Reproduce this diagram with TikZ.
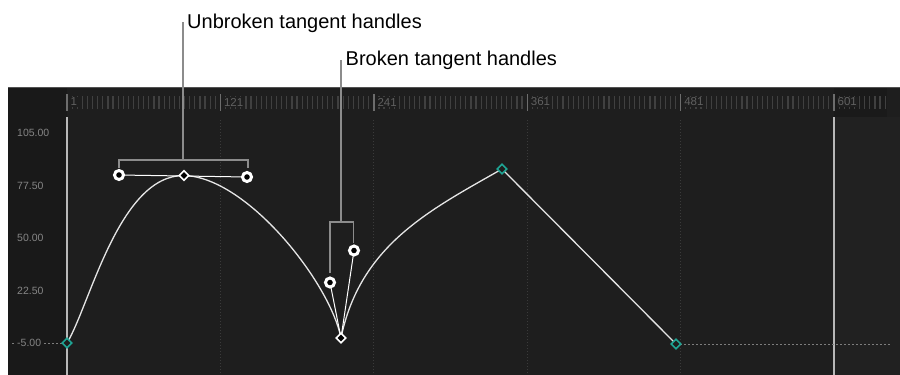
\documentclass[tikz,border=0pt]{standalone}
\usepackage{fontspec}
\setmainfont{Liberation Sans}
\usetikzlibrary{shapes.geometric}
\definecolor{panelbg}{HTML}{1E1E1E}
\definecolor{labelbg}{HTML}{191919}
\definecolor{rightbg}{HTML}{212121}
\definecolor{rulerdark}{HTML}{1A1A1A}
\definecolor{keyteal}{HTML}{1FA595}
\tikzset{
  graphcurve/.style={draw=white!90!black,line width=1.3pt},
  graphgrid/.style={draw=white!13!panelbg,line width=1pt,dotted},
  graphplayhead/.style={draw=white!72!black,line width=1.4pt},
  graphtail/.style={draw=white!42!panelbg,line width=1pt,dash pattern=on 1.5pt off 2.5pt},
  graphkey/.style={diamond,draw=keyteal,fill=panelbg,line width=1.6pt,minimum size=10pt,inner sep=0pt},
  graphsel/.style={diamond,draw=white,fill=black,line width=1.6pt,minimum size=10pt,inner sep=0pt},
  graphhandle/.style={circle,draw=white,fill=black,line width=3pt,minimum size=9pt,inner sep=0pt},
  graphhandleline/.style={draw=white,line width=1pt},
  graphbracket/.style={draw=black!45,line width=1.5pt},
  minortick/.style={draw=white!15!panelbg,line width=1.2pt},
  axislabel/.style={text=white!52!black,font=\fontsize{10.5}{12}\selectfont,inner sep=1pt},
  rulerlabel/.style={text=white!38!black,font=\fontsize{11.5}{13}\selectfont,inner sep=1pt,fill=panelbg},
  calloutlabel/.style={font=\fontsize{20}{24}\selectfont,inner sep=0pt,anchor=base west}
}
\begin{document}
\begin{tikzpicture}[x=1pt,y=-1pt]
  \useasboundingbox (0,0) rectangle (900,375);
  % panel
  \fill[panelbg] (8,87) rectangle (900,375);
  \fill[labelbg] (8,87) rectangle (67,375);
  \fill[rightbg] (834,117) rectangle (900,375);
  \fill[rulerdark] (834,88) rectangle (887,117);
  \draw[white!32!black,line width=1pt] (8,87.5) -- (900,87.5);

  % ruler
  \foreach \k in {0,...,4}
    \foreach \j in {1,...,29}
      \draw[minortick] (67+153.4*\k+5.113*\j,96) -- ++(0,13);
  \foreach \j in {1,...,10}
    \draw[minortick] (834+5.113*\j,96) -- ++(0,13);
  \foreach \lab [count=\k from 0] in {1,121,241,361,481,601}{
    \draw[white!35!panelbg,line width=1.4pt] (67+153.4*\k,94) -- ++(0,17);
    \node[rulerlabel,anchor=west] (tick\k) at (69.5+153.4*\k,102) {\lab};
  }

  % grid and playhead lines
  \foreach \k in {1,...,4}
    \draw[graphgrid] (67+153.4*\k,120) -- ++(0,255);
  \draw[graphplayhead] (67,117) -- (67,375);
  \draw[graphplayhead] (834,117) -- (834,375);

  % value axis
  \draw[graphtail] (12,343) -- (64,343);
  \foreach \v/\y [count=\i] in {105.00/133,77.50/185.5,50.00/238,22.50/290.5,-5.00/343}
    \node[axislabel,anchor=west,fill=labelbg] (val\i) at (16,\y) {\v};

  % keyframes and handles
  \coordinate (keyA) at (67,343);
  \coordinate (keyB) at (184,175.5);
  \coordinate (keyC) at (341,338);
  \coordinate (keyD) at (502,169);
  \coordinate (keyE) at (676,344);
  \coordinate (handleBl) at (119,175);
  \coordinate (handleBr) at (247,177);
  \coordinate (handleCl) at (330,282.5);
  \coordinate (handleCr) at (354,250.5);
  \coordinate (tailEnd) at (890,344);

  \draw[graphcurve] (keyA) .. controls (90,305) and (handleBl) .. (keyB);
  \draw[graphcurve] (keyB) .. controls (handleBr) and (handleCl) .. (keyC);
  \draw[graphcurve] (keyC) .. controls (360,245) and (430,210) .. (keyD);
  \draw[graphcurve] (keyD) -- (keyE);
  \draw[graphtail] (keyE) -- (tailEnd);

  \draw[graphhandleline] (handleBl) -- (handleBr);
  \draw[graphhandleline] (keyC) -- (handleCl);
  \draw[graphhandleline] (keyC) -- (handleCr);

  \node[graphkey] (kA) at (keyA) {};
  \node[graphsel] (kB) at (keyB) {};
  \node[graphsel] (kC) at (keyC) {};
  \node[graphkey] (kD) at (keyD) {};
  \node[graphkey] (kE) at (keyE) {};
  \node[graphhandle] (hBl) at (handleBl) {};
  \node[graphhandle] (hBr) at (handleBr) {};
  \node[graphhandle] (hCl) at (handleCl) {};
  \node[graphhandle] (hCr) at (handleCr) {};

  % callouts
  \node[calloutlabel] (unbroken) at (187,28) {Unbroken tangent handles};
  \node[calloutlabel] (broken) at (345.5,65) {Broken tangent handles};
  \draw[graphbracket] (119,168) -- (119,160) -- (248,160) -- (248,168);
  \draw[graphbracket] (183,160) -- (183,22);
  \draw[graphbracket] (330,273) -- (330,222) -- (353.5,222) -- (353.5,243);
  \draw[graphbracket] (341,222) -- (341,60);
\end{tikzpicture}
\end{document}
